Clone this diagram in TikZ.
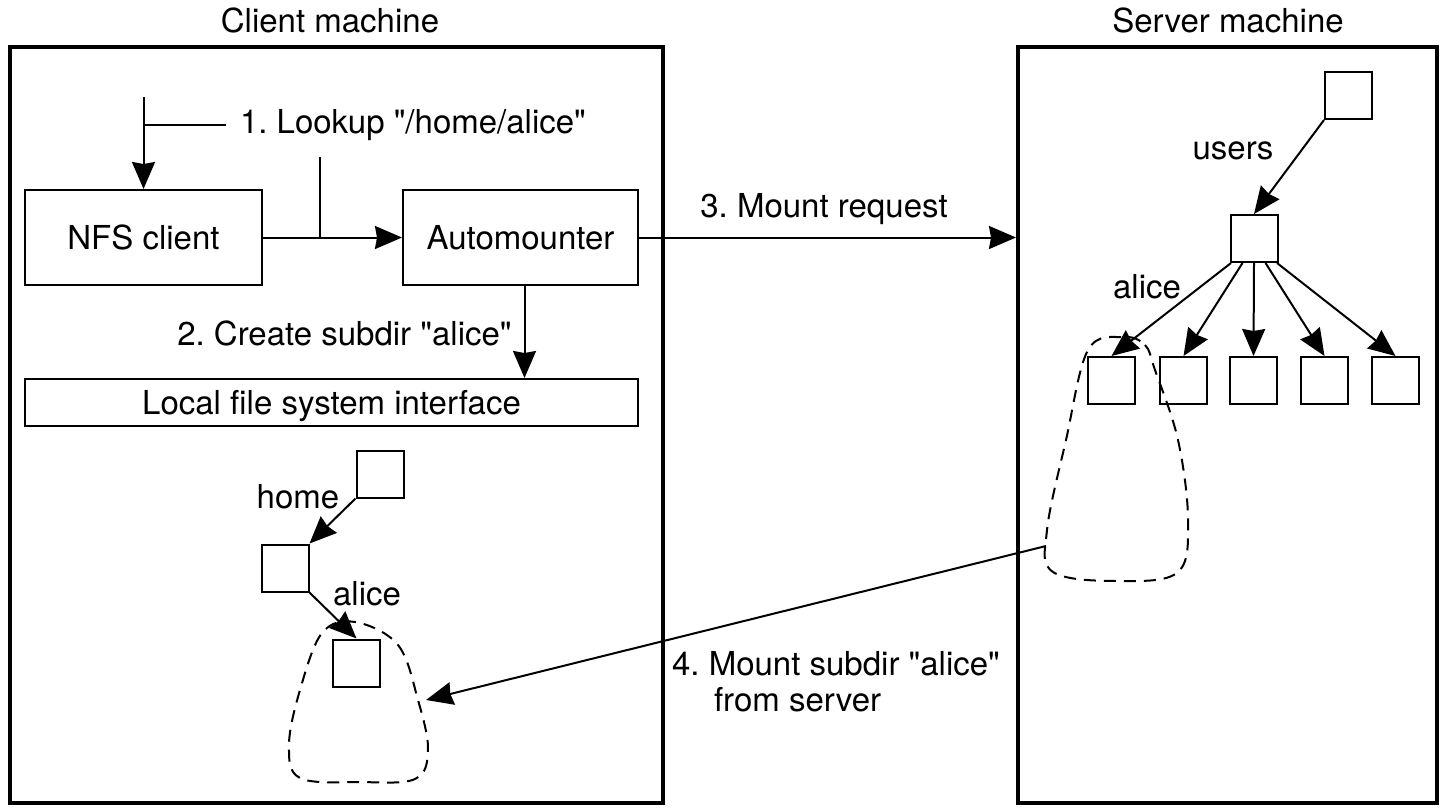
\documentclass[tikz,border=0pt]{standalone}
\usepackage{fontspec}
\setmainfont{TeX Gyre Heros}[Ligatures=TeXOff]
\usetikzlibrary{arrows.meta}
\frenchspacing

\begin{document}
\begin{tikzpicture}[x=1pt, y=-1pt, line width=2pt,
  every node/.style={font=\fontsize{33}{36}\selectfont},
  box/.style={draw, minimum height=95pt, inner sep=0pt},
  sq/.style={draw, minimum size=47pt, inner sep=0pt},
  machine/.style={draw, line width=4pt, minimum height=756pt},
  blob/.style={dash pattern=on 12pt off 8pt},
  arr/.style={-{Stealth[length=27pt, width=23pt, inset=2pt]}}]

  \useasboundingbox (0,0) rectangle (1445,807);

  % the two machines
  \node[machine, minimum width=653pt] (client) at (336.5,425) {};
  \node[machine, minimum width=419pt] (server) at (1227.5,425) {};
  \node (clientname) at (330,20) {Client machine};
  \node (servername) at (1228,20) {Server machine};

  \node[box, minimum width=237pt] (nfs) at (143.5,237.5) {NFS client};
  \node[box, minimum width=235pt] (auto) at (520.5,237.5) {Automounter};
  \node[box, minimum width=613pt, minimum height=47pt, text depth=0pt] (lfs) at (331.5,402.5) {Local file system interface};

  % 1. lookup
  \coordinate (lktop) at (143.5,97);
  \coordinate (lkbot) at (320,157);
  \node[anchor=west, inner xsep=13pt] (lookup) at (226,125) {1. Lookup "/home/alice"};
  \draw[arr] (lktop) -- (nfs.north);
  \draw (lookup.west) -- (lookup.west -| lktop);
  \draw (lkbot) -- (lkbot |- nfs.east);
  \draw[arr] (nfs.east) -- (auto.west);

  % 2. create subdir
  \draw[arr] ([xshift=4pt]auto.south) -- ([xshift=4pt]auto.south |- lfs.north);
  \node[anchor=east] (create) at (516,333) {2. Create subdir "alice"};

  % 3. mount request
  \node (mountreq) at (824,209) {3. Mount request};
  \draw[arr] (auto.east) -- (auto.east -| server.west);

  % client tree
  \node[sq] (home0) at (380,474) {};
  \node[sq] (home1) at (285,568) {};
  \node[sq] (home2) at (356.5,663) {};
  \node (homelbl) at (298,497) {home};
  \node (alicecli) at (367,594) {alice};
  \draw[arr] (home0.south west) -- (home1.north east);
  \draw[arr] (home1.south east) -- (home2.north);

  \draw[blob] plot[smooth cycle, tension=0.6] coordinates {(355,622) (398,645) (418,700)
    (428,750) (415,779) (360,782) (300,778) (289,745) (300,690) (322,633)};

  % server tree
  \node[sq] (usr0) at (1348.5,95.5) {};
  \node[sq] (usr1) at (1254,238.5) {};
  \node (userslbl) at (1233,151) {users};
  \node (alicesrv) at (1147,287) {alice};
  \draw[arr] (usr0.south west) -- (usr1.north);
  \foreach \i/\x in {1/1111.5, 2/1183.5, 3/1253.5, 4/1324.5, 5/1395.5}{
    \node[sq] (dir\i) at (\x,380.5) {};
    \draw[arr] ([xshift={(\i-3)*11.5pt}]usr1.south) -- (dir\i.north);
  }

  \draw[blob] plot[smooth cycle, tension=0.6] coordinates {(1123,337) (1145,345) (1155,370)
    (1178,440) (1188,520) (1178,572) (1120,581) (1053,572) (1047,530) (1066,440) (1088,350)};

  % 4. mount subdir
  \coordinate (srvdir) at (1046,546);
  \coordinate (clidir) at (426,700);
  \draw[arr] (srvdir) -- (clidir);
  \node[align=left] (mountdir) at (836,682) {4. Mount subdir "alice"\\\hspace*{42pt}from server};
\end{tikzpicture}
\end{document}
